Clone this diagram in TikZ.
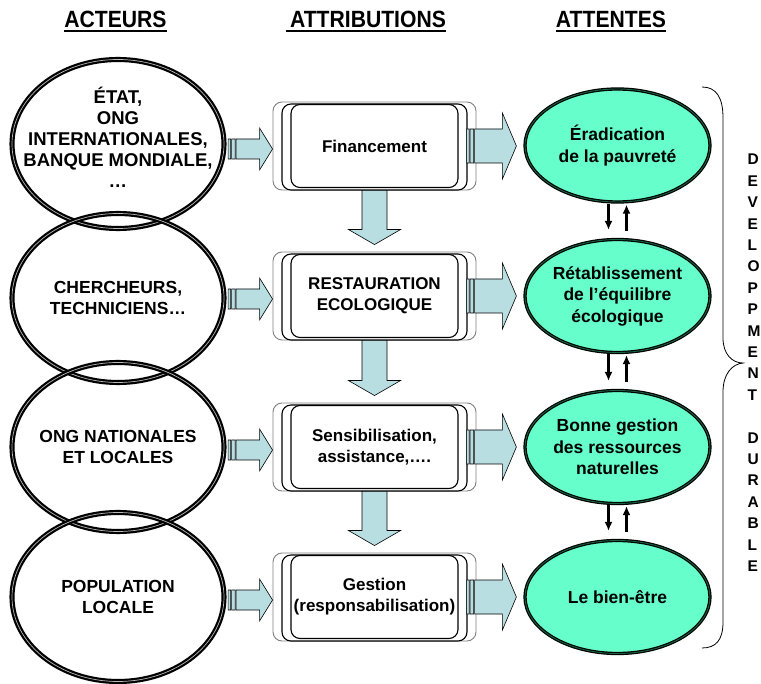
\documentclass[tikz,border=0pt]{standalone}
\usepackage{fontspec}
\setmainfont{Liberation Sans}
\usepackage{graphicx}
\usetikzlibrary{shapes.geometric,calc,arrows.meta}
\definecolor{arrowblue}{RGB}{185,222,226}
\definecolor{attente}{RGB}{102,255,204}
\definecolor{attenteline}{RGB}{25,95,65}

\newcommand\stripearrow[5]{% #1 tail, #2 tip, #3 shaft half, #4 head half, #5 head length
  \path[blockarrow] let \p1=(#1), \p2=(#2) in
    (\x1,\y1-#3) rectangle (\x1+2.5pt,\y1+#3)
    (\x1+3.5pt,\y1-#3) rectangle (\x1+7pt,\y1+#3)
    (\x1+8pt,\y1-#3) -- (\x2-#5,\y1-#3) -- (\x2-#5,\y1-#4) -- (\x2,\y1)
      -- (\x2-#5,\y1+#4) -- (\x2-#5,\y1+#3) -- (\x1+8pt,\y1+#3) -- cycle;
}
\newcommand\downblock[2]{% #1 top of shaft, #2 tip
  \path[blockarrow] let \p1=(#1), \p2=(#2) in
    (\x1-12.5pt,\y1) -- (\x1-12.5pt,\y2+15pt) -- (\x1-26pt,\y2+15pt) -- (\x1,\y2)
      -- (\x1+26pt,\y2+15pt) -- (\x1+12.5pt,\y2+15pt) -- (\x1+12.5pt,\y1) -- cycle;
}

\tikzset{
  actor/.style={ellipse, draw=black, line width=2.2pt, double=gray!55, double distance=0.7pt,
    minimum width=212pt, minimum height=169pt, inner sep=0pt},
  actortext/.style={font=\bfseries\fontsize{17.5}{20.5}\selectfont, align=center, inner sep=0pt},
  goal/.style={ellipse, draw=black, fill=attente, line width=1.2pt, double=attenteline,
    double distance=0.9pt, minimum width=185pt, minimum height=113pt, inner sep=0pt,
    align=center, font=\bfseries\fontsize{17.5}{21.5}\selectfont},
  backbox/.style={rectangle, rounded corners=9pt, draw=gray, line width=0.9pt, fill=white,
    minimum width=203pt, minimum height=88pt},
  midbox/.style={rectangle, rounded corners=9pt, draw=black, line width=1.1pt, fill=white,
    minimum width=185pt, minimum height=86pt},
  frontbox/.style={rectangle, rounded corners=9pt, draw=black, line width=1.1pt, fill=white,
    minimum width=167pt, minimum height=83pt, align=center, inner sep=0pt,
    font=\bfseries\fontsize{17}{21}\selectfont},
  blockarrow/.style={draw=black, fill=arrowblue, line width=0.6pt},
  smallarrow/.style={line width=2.2pt, -{Latex[length=9pt,width=8pt]}},
  hdr/.style={font=\bfseries\fontsize{23.5}{23.5}\selectfont, inner sep=0pt, anchor=base},
  uline/.style={line width=2pt},
  brace/.style={line width=0.8pt},
  vtext/.style={font=\bfseries\fontsize{15.5}{21.4}\selectfont, align=left, inner sep=0pt, anchor=north west}
}

\begin{document}
\begin{tikzpicture}[x=1pt,y=-1pt]
\useasboundingbox (0,0) rectangle (761,684);

% headers
\node[hdr] (h1) at (115.5,28) {\scalebox{0.9}[1]{ACTEURS}};
\node[hdr] (h2) at (368,28) {\scalebox{0.9}[1]{ATTRIBUTIONS}};
\node[hdr] (h3) at (611,28) {\scalebox{0.9}[1]{ATTENTES}};
\draw[uline] ([yshift=-3.5pt]h1.base west) -- ([yshift=-3.5pt]h1.base east);
\draw[uline] ([xshift=-4pt,yshift=-3.5pt]h2.base west) -- ([yshift=-3.5pt]h2.base east);
\draw[uline] ([yshift=-3.5pt]h3.base west) -- ([yshift=-3.5pt]h3.base east);

% actors
\node[actor, label={[actortext, font=\bfseries\fontsize{18.5}{21}\selectfont, yshift=7pt]center:{ÉTAT,\\ONG\\INTERNATIONALES,\\BANQUE MONDIALE,\\…}}] (a1) at (118,144) {};
\node[actor, label={[actortext]center:{CHERCHEURS,\\TECHNICIENS…}}] (a2) at (118,298) {};
\node[actor, label={[actortext]center:{ONG NATIONALES\\ET LOCALES}}] (a3) at (118,447) {};
\node[actor, label={[actortext]center:{POPULATION\\LOCALE}}] (a4) at (118,597) {};

% attribution boxes
\foreach \i/\y/\t in {1/146/{Financement},
                      2/296/{RESTAURATION\\ECOLOGIQUE},
                      3/447/{Sensibilisation,\\assistance,….},
                      4/597/{Gestion\\(responsabilisation)}}{
  \node[backbox] (f\i b) at (374.5,\y) {};
  \node[midbox] (f\i m) at (374.5,\y+1) {};
  \node[frontbox] (f\i) at (374.5,\y) {\t};
}

% actor -> box arrows
\foreach \i in {1,2,3,4}{
  \stripearrow{$(a\i.east |- f\i b.west)+(3,3)$}{$(f\i b.west)+(0,3)$}{10pt}{21pt}{13pt}
}

% box -> box arrows
\downblock{f1b.south}{$(f2b.north)+(0,-7)$}
\downblock{f2b.south}{$(f3b.north)+(0,-7)$}
\downblock{f3b.south}{$(f4b.north)+(0,-7)$}

% expectations
\node[goal] (g1) at (617.5,145.5) {Éradication\\de la pauvreté};
\node[goal] (g2) at (617.5,296) {Rétablissement\\de l’équilibre\\écologique};
\node[goal] (g3) at (617.5,447) {Bonne gestion\\des ressources\\naturelles};
\node[goal] (g4) at (617.5,597) {Le bien-être};

% box -> expectation arrows
\foreach \i in {1,2,3,4}{
  \stripearrow{$(f\i m.east)+(-1,-1)$}{$(g\i.west)+(-8,0)$}{17pt}{33pt}{14pt}
}

% small double arrows
\foreach \i/\j in {1/2,2/3,3/4}{
  \draw[smallarrow] ($(g\i.south)+(-9,1)$) -- ($(g\j.north)+(-9,-9)$);
  \draw[smallarrow] ($(g\j.north)+(9,-8)$) -- ($(g\i.south)+(9,2)$);
}

% brace
\draw[brace] (702,87) .. controls (716,87) and (723,97) .. (723,118) -- (723,338)
  .. controls (723,354) and (732,363) .. (743,363)
  .. controls (732,364) and (723,374) .. (723,392) -- (723,622)
  .. controls (723,640) and (716,648) .. (702,648);

% vertical text
\node[vtext] (dd) at (747.5,154) {D\\E\\V\\E\\L\\O\\P\\P\\M\\E\\N\\T\\\mbox{}\\D\\U\\R\\A\\B\\L\\E};
\end{tikzpicture}
\end{document}
